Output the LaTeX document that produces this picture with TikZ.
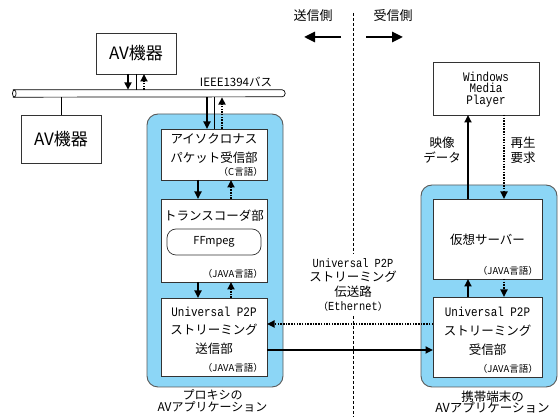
\documentclass[tikz,border=0pt]{standalone}
\usepackage{fontspec}
\setmainfont{Noto Sans CJK JP}
\newfontfamily\monof[FakeStretch=0.84]{Liberation Mono}
\usetikzlibrary{arrows.meta}
\definecolor{appblue}{RGB}{140,214,246}
\begin{document}
\begin{tikzpicture}[x=1pt,y=-1pt,
  box/.style={draw=black!80, line width=0.7pt, fill=white, inner sep=0pt, outer sep=0pt},
  app/.style={draw=black!65, line width=0.9pt, fill=appblue, rounded corners=11pt, inner sep=0pt},
  sarr/.style={line width=1.7pt, -{Triangle[length=7.5pt,width=7pt]}},
  darr/.style={line width=1.7pt, dash pattern=on 1.5pt off 1.2pt, -{Triangle[length=7.5pt,width=7pt]}},
  conn/.style={line width=0.7pt},
  jp/.style={inner sep=0pt, align=center, font=\fontsize{12.5}{19}\selectfont},
  small/.style={inner sep=0pt, font=\fontsize{9.5}{11}\selectfont},
  bigarr/.style={line width=2.6pt, -{Triangle[length=11pt,width=10pt]}},
  divider/.style={line width=0.6pt, dash pattern=on 3pt off 2pt},
  avfont/.style={font=\fontsize{17}{20}\selectfont}
]
\useasboundingbox (0,0) rectangle (558,419);

% application containers
\node[app, minimum width=136pt, minimum height=273pt] (proxy) at (215,250.5) {};
\node[app, minimum width=136pt, minimum height=202pt] (client) at (489,286) {};

% AV devices
\node[box, avfont, minimum width=80pt, minimum height=41pt] (avtop) at (136,53.5) {AV機器};
\node[box, avfont, minimum width=80pt, minimum height=48pt] (avleft) at (61,139) {AV機器};

% bus
\node[minimum width=272pt, minimum height=7pt, inner sep=0pt] (bus) at (149,93.5) {};
\draw[conn] (bus.north west) -- ([xshift=-3pt]bus.north east) arc[start angle=-90,end angle=90,x radius=3,y radius=3.5] -- (bus.south west);
\draw[conn] ([xshift=1.5pt]bus.west) ellipse [x radius=1.8, y radius=3.5];
\node[inner sep=0pt, font=\fontsize{11.5}{13}\selectfont] (buslbl) at (236,82) {IEEE1394バス};

% proxy boxes
\node[box, minimum width=106pt, minimum height=51pt] (box1) at (214,154.5) {};
\node[jp] (box1t) at (214,148.5) {アイソクロナス\\パケット受信部};
\node[small, anchor=south east] (box1l) at ([xshift=-4pt,yshift=3pt]box1.south east) {（C言語）};

\node[box, minimum width=106pt, minimum height=83pt] (box2) at (214,240.5) {};
\node[jp] (box2t) at (214,216) {トランスコーダ部};
\node[box, rounded corners=9pt, minimum width=94pt, minimum height=26pt, font=\fontsize{11}{13}\selectfont] (ffmpeg) at (214,242) {FFmpeg};
\node[small, anchor=south east] (box2l) at ([xshift=-4pt,yshift=3pt]box2.south east) {（JAVA言語）};

\node[box, minimum width=106pt, minimum height=78pt] (box3) at (214,337) {};
\node[jp, font=\fontsize{12.5}{18.5}\selectfont] (box3t) at (214,330.5) {{\monof\fontsize{13}{18.5}\selectfont Universal P2P}\\ストリーミング\\送信部};
\node[small, anchor=south east] (box3l) at ([xshift=-4pt,yshift=3pt]box3.south east) {（JAVA言語）};

% client boxes
\node[box, minimum width=106pt, minimum height=53pt] (wmp) at (486,88.5) {};
\node[inner sep=0pt, align=center, font=\monof\fontsize{13}{11.5}\selectfont] (wmpt) at (486,89.5) {Windows\\Media\\Player};

\node[box, minimum width=109pt, minimum height=80pt] (server) at (487.5,239) {};
\node[jp] (servert) at (487.5,240) {仮想サーバー};
\node[small, anchor=south east] (serverl) at ([xshift=-4pt,yshift=3pt]server.south east) {（JAVA言語）};

\node[box, minimum width=109pt, minimum height=80pt] (recv) at (487.5,337) {};
\node[jp, font=\fontsize{12.5}{19}\selectfont] (recvt) at (487.5,331) {{\monof\fontsize{13}{19}\selectfont Universal P2P}\\ストリーミング\\受信部};
\node[small, anchor=south east] (recvl) at ([xshift=-4pt,yshift=3pt]recv.south east) {（JAVA言語）};

% bus connections
\draw[sarr] ([xshift=-8pt]avtop.south) -- ([xshift=-8pt]avtop.south |- bus.north);
\draw[conn] (avtop.south) -- (avtop.south |- bus.north);
\draw[darr] ([xshift=8pt]avtop.south |- bus.north) -- ([xshift=8pt]avtop.south);
\draw[conn] (avleft.north) -- (avleft.north |- bus.south);
\draw[sarr] ([xshift=-7pt]box1.north |- bus.south) -- ([xshift=-7pt]box1.north);
\draw[conn] (box1.north |- bus.south) -- (box1.north);
\draw[darr] ([xshift=8pt]box1.north) -- ([xshift=8pt]box1.north |- bus.south);

% proxy internal
\draw[sarr] ([xshift=-16pt]box1.south) -- ([xshift=-16pt]box2.north);
\draw[darr] ([xshift=17pt]box2.north) -- ([xshift=17pt]box1.south);
\draw[sarr] ([xshift=-16pt]box2.south) -- ([xshift=-16pt]box3.north);
\draw[darr] ([xshift=17pt]box3.north) -- ([xshift=17pt]box2.south);

% client internal
\draw[sarr] ([xshift=-19.5pt]server.north) -- ([xshift=-19.5pt]server.north |- wmp.south);
\draw[darr] ([xshift=16.5pt]server.north |- wmp.south) -- ([xshift=16.5pt]server.north);
\draw[sarr] ([xshift=-19.5pt]recv.north) -- ([xshift=-19.5pt]server.south);
\draw[darr] ([xshift=16.5pt]server.south) -- ([xshift=16.5pt]recv.north);
\node[jp, font=\fontsize{12.5}{15}\selectfont] (eizo) at (442,150) {映像\\データ};
\node[jp, font=\fontsize{12.5}{15}\selectfont] (saisei) at (523,150) {再生\\要求};

% streaming
\draw[darr] ([yshift=13pt]recv.west) -- ([yshift=13pt]recv.west -| box3.east);
\draw[sarr] ([yshift=-13pt]box3.east) -- ([yshift=-13pt]box3.east -| recv.west);

% divider and middle label
\node[inner sep=4pt, align=center, font=\fontsize{12.5}{14.5}\selectfont] (mid) at (353,285) {{\monof\fontsize{12.3}{14.5}\selectfont Universal P2P}\\ストリーミング\\伝送路\\{\fontsize{10}{14.5}\selectfont （}{\monof\fontsize{12.3}{14.5}\selectfont Ethernet}{\fontsize{10}{14.5}\selectfont ）}};
\coordinate (dtop) at (353,13);
\coordinate (dbot) at (353,416);
\draw[divider] (dtop) -- (mid.north);
\draw[divider] (mid.south) -- (dbot);

% side labels
\node[inner sep=0pt, font=\fontsize{13}{15}\selectfont] (send) at (313,16) {送信側};
\node[inner sep=0pt, font=\fontsize{13}{15}\selectfont] (recvside) at (393,16) {受信側};
\coordinate (la1) at (341,37);
\coordinate (la2) at (304,37);
\coordinate (ra1) at (366,37);
\coordinate (ra2) at (403,37);
\draw[bigarr] (la1) -- (la2);
\draw[bigarr] (ra1) -- (ra2);

% bottom labels
\node[inner sep=0pt, align=center, font=\fontsize{12}{11.5}\selectfont] (proxylbl) at (212.5,401) {プロキシの\\AVアプリケーション};
\node[inner sep=0pt, align=center, font=\fontsize{12.5}{11.5}\selectfont] (clientlbl) at (492.5,402) {携帯端末の\\AVアプリケーション};
\end{tikzpicture}
\end{document}
